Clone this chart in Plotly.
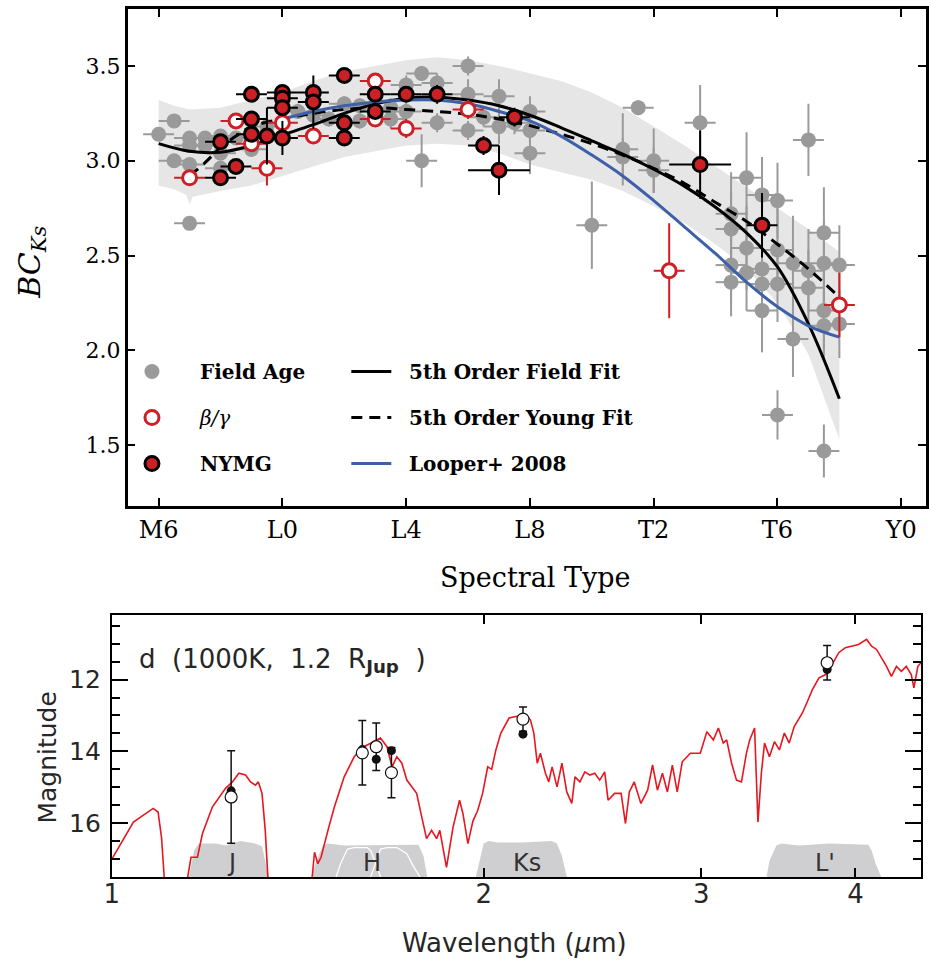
import numpy as np
import plotly.graph_objects as go

# ---------------- Upper panel: bolometric correction vs spectral type ----------------
# Spectral types are numeric: M6=6, L0=10, T0=20, Y0=30
spt_tickvals = [6, 10, 14, 18, 22, 26, 30]
spt_ticktext = ["M6", "L0", "L4", "L8", "T2", "T6", "Y0"]

field_spt = [6.0, 6.5, 6.5, 7.0, 7.0, 7.0, 7.0, 7.5, 7.5, 8.0, 8.0, 8.0, 8.5, 9.0, 9.5,
             10.5, 11.0, 11.5, 12.0, 12.5, 12.5, 13.5, 13.5,
             14.0, 14.0, 14.5, 14.5, 15.0, 15.0, 16.0, 16.0, 16.0, 16.5, 17.0, 17.0, 17.5,
             18.0, 18.0, 18.0,
             20.0, 21.0, 21.0, 21.5, 22.0, 22.0, 23.5,
             24.5, 24.5, 24.5, 24.5, 25.0, 25.0, 25.0, 25.5, 25.5, 25.5, 25.5,
             26.0, 26.0, 26.0, 26.0, 26.5, 26.5, 27.0, 27.0, 27.0,
             27.5, 27.5, 27.5, 27.5, 27.5, 28.0, 28.0]
field_bc = [3.14, 3.21, 3.00, 3.12, 3.08, 2.98, 2.67, 3.12, 3.08, 3.13, 3.04, 2.96, 3.12, 3.06, 3.18,
            3.26, 3.24, 3.22, 3.30, 3.29, 3.21, 3.22, 3.28,
            3.40, 3.26, 3.46, 3.00, 3.41, 3.20, 3.50, 3.35, 3.16, 3.23, 3.34, 3.18, 3.20,
            3.26, 3.16, 3.04,
            2.66, 3.06, 3.02, 3.28, 3.00, 2.95, 3.20,
            2.72, 2.64, 2.45, 2.36, 2.91, 2.54, 2.41, 2.82, 2.43, 2.35, 2.21,
            2.79, 2.53, 2.35, 1.66, 2.46, 2.06, 3.11, 2.42, 2.33,
            2.62, 2.46, 2.21, 2.13, 1.47, 2.45, 2.14]
field_bc_err = [0.03, 0.03, 0.03, 0.03, 0.03, 0.03, 0.03, 0.03, 0.03, 0.03, 0.03, 0.03, 0.03, 0.04, 0.04,
                0.04, 0.04, 0.04, 0.04, 0.04, 0.04, 0.05, 0.05,
                0.05, 0.05, 0.04, 0.14, 0.05, 0.05, 0.05, 0.08, 0.05, 0.05, 0.09, 0.09, 0.06,
                0.08, 0.06, 0.11,
                0.23, 0.19, 0.10, 0.04, 0.17, 0.12, 0.20,
                0.22, 0.20, 0.20, 0.18, 0.24, 0.22, 0.20, 0.20, 0.22, 0.20, 0.22,
                0.20, 0.22, 0.20, 0.13, 0.25, 0.20, 0.19, 0.22, 0.20,
                0.24, 0.22, 0.20, 0.18, 0.14, 0.21, 0.18]

young_spt = [7.0, 8.5, 9.0, 9.5, 10.0, 11.0, 13.0, 13.0, 14.0, 16.0, 22.5, 28.0]
young_bc = [2.91, 3.21, 3.09, 2.96, 3.20, 3.13, 3.42, 3.22, 3.17, 3.27, 2.42, 2.24]
young_spt_err = [0.5, 0.5, 0.5, 0.5, 0.5, 0.5, 0.5, 0.5, 0.5, 0.5, 0.5, 0.5]
young_bc_err = [0.03, 0.03, 0.03, 0.09, 0.04, 0.03, 0.04, 0.04, 0.05, 0.05, 0.25, 0.17]

nymg_spt = [8.0, 8.0, 8.5, 9.0, 9.0, 9.0, 9.5, 10.0, 10.0, 10.0, 10.0, 11.0, 11.0,
            12.0, 12.0, 12.0, 13.0, 13.0, 14.0, 15.0, 16.5, 17.0, 17.5, 23.5, 25.5]
nymg_bc = [2.91, 3.10, 2.97, 3.35, 3.22, 3.14, 3.13, 3.36, 3.33, 3.28, 3.12, 3.36, 3.31,
           3.45, 3.20, 3.12, 3.35, 3.26, 3.35, 3.35, 3.08, 2.95, 3.23, 2.98, 2.66]
nymg_spt_err = [0.5, 0.5, 0.5, 0.5, 0.5, 0.5, 0.5, 0.5, 0.5, 0.5, 0.5, 0.5, 0.5,
                0.5, 0.5, 0.5, 0.5, 0.5, 0.5, 0.5, 0.5, 1.0, 0.5, 1.0, 0.5]
nymg_bc_err = [0.03, 0.03, 0.03, 0.03, 0.03, 0.03, 0.15, 0.03, 0.03, 0.03, 0.09, 0.03, 0.14,
               0.04, 0.04, 0.04, 0.04, 0.04, 0.04, 0.05, 0.05, 0.13, 0.05, 0.18, 0.17]

# Polynomial relations, tabulated along spectral type
field_fit_spt = [6, 7, 8, 9, 10, 11, 12, 13, 14, 15, 16, 17, 18, 19, 20, 21, 22, 23, 24, 25, 26, 27, 28]
field_fit_bc = [3.09, 3.05, 3.045, 3.08, 3.135, 3.19, 3.25, 3.30, 3.33, 3.335, 3.32, 3.29, 3.24,
                3.175, 3.105, 3.035, 2.955, 2.865, 2.755, 2.62, 2.44, 2.14, 1.745]
young_fit_spt = [7, 7.5, 8, 8.5, 9, 10, 11, 12, 13, 14, 15, 16, 17, 18, 19, 20, 21, 22, 23, 24, 25, 26, 27, 28]
young_fit_bc = [2.92, 2.99, 3.07, 3.13, 3.18, 3.22, 3.25, 3.27, 3.28, 3.27, 3.26, 3.245, 3.22, 3.185,
                3.14, 3.09, 3.03, 2.96, 2.88, 2.78, 2.68, 2.56, 2.43, 2.28]
looper_spt = [10, 11, 12, 13, 14, 15, 16, 17, 18, 19, 20, 21, 22, 23, 24, 25, 26, 27, 28]
looper_bc = [3.22, 3.26, 3.29, 3.31, 3.32, 3.32, 3.30, 3.26, 3.21, 3.13, 3.03, 2.92, 2.79, 2.65,
             2.51, 2.36, 2.23, 2.13, 2.07]

band_up_spt = [6, 6.5, 7, 8, 9, 10, 11, 12, 13, 14, 15, 16, 17, 18, 19, 20, 21, 22, 23, 24, 25, 26, 27, 28]
band_up = [3.32, 3.29, 3.27, 3.28, 3.32, 3.36, 3.42, 3.47, 3.50, 3.53, 3.545, 3.53, 3.50, 3.46,
           3.42, 3.36, 3.28, 3.18, 3.08, 2.97, 2.86, 2.75, 2.64, 2.52]
band_lo_spt = [6, 6.5, 6.9, 7.0, 7.1, 8, 9, 10, 11, 12, 13, 14, 15, 16, 17, 18, 19, 20, 21, 22,
               23, 24, 25, 26, 27, 28]
band_lo = [2.87, 2.85, 2.82, 2.77, 2.81, 2.84, 2.87, 2.92, 2.97, 3.02, 3.05, 3.08, 3.09, 3.08,
           3.04, 2.98, 2.94, 2.90, 2.84, 2.76, 2.67, 2.56, 2.43, 2.25, 1.98, 1.53]

# ---------------- Lower panel: model spectrum and photometry ----------------
spec_wl = [1.000, 1.015, 1.041, 1.080, 1.090, 1.097, 1.104, None,
           1.148, 1.159, 1.173, 1.184, 1.206, 1.236, 1.252, 1.267, 1.283, 1.295, 1.307, 1.314,
           1.323, 1.331, 1.339, None,
           1.450, 1.459, 1.468, 1.477, 1.496, 1.514, 1.542, 1.571, 1.600, 1.620, 1.650, 1.670,
           1.686, 1.701, 1.717, 1.733, 1.749, 1.765, 1.782, 1.798, 1.815, 1.832, 1.843, 1.866,
           1.889, 1.912, 1.924, 1.942, 1.960, 1.978, 1.996, 2.015, 2.030, 2.046, 2.065, 2.097,
           2.123, 2.162, 2.182, 2.196, 2.210, 2.223, 2.244, 2.258, 2.272, 2.293, 2.314, 2.335,
           2.357, 2.371, 2.393, 2.415, 2.438, 2.460, 2.483, 2.506, 2.522, 2.553, 2.584, 2.605,
           2.624, 2.648, 2.681, 2.715, 2.740, 2.765, 2.791, 2.817, 2.843, 2.869, 2.896, 2.940,
           2.995, 3.032, 3.069, 3.098, 3.126, 3.146, 3.175, 3.204, 3.234, 3.264, 3.284, 3.314,
           3.335, 3.356, 3.376, 3.407, 3.439, 3.471, 3.503, 3.535, 3.568, 3.601, 3.623, 3.657,
           3.691, 3.737, 3.783, 3.829, 3.877, 3.925, 3.973, 4.022, 4.084, 4.122, 4.160, 4.199,
           4.238, 4.277, 4.317, 4.357, 4.397, 4.438, 4.460, 4.493, 4.520]
spec_mag = [17.00, 16.62, 15.97, 15.59, 15.69, 16.40, 17.80, None,
            17.80, 16.95, 16.95, 16.29, 15.55, 15.03, 14.85, 14.61, 14.66, 14.85, 14.94, 14.85,
            15.17, 16.20, 17.80, None,
            17.80, 16.81, 17.13, 16.95, 16.20, 15.55, 14.71, 14.15, 13.87, 13.77, 13.63, 13.87,
            14.43, 14.15, 14.33, 14.80, 14.99, 15.17, 15.83, 16.43, 16.20, 16.43, 16.20, 17.23,
            16.11, 15.36, 15.73, 16.57, 15.95, 15.64, 15.17, 14.43, 14.50, 13.96, 13.49, 13.07,
            13.03, 12.98, 13.12, 13.49, 14.33, 14.05, 14.61, 14.85, 14.43, 14.99, 14.33, 15.13,
            15.45, 14.71, 14.85, 14.57, 14.66, 14.61, 14.80, 14.57, 15.36, 15.17, 15.17, 16.01,
            15.13, 14.85, 15.45, 15.08, 14.38, 15.08, 14.61, 15.13, 14.38, 15.13, 14.29, 14.05,
            14.05, 13.45, 13.68, 13.35, 13.77, 13.68, 14.33, 14.80, 14.85, 14.05, 13.68, 13.35,
            15.97, 14.61, 13.77, 14.15, 13.73, 13.96, 13.49, 13.77, 13.31, 13.07, 12.93, 12.61,
            12.28, 11.95, 11.86, 11.58, 11.25, 11.11, 11.07, 11.02, 10.88, 11.07, 11.16, 11.39,
            11.63, 11.91, 11.63, 11.77, 11.63, 11.86, 12.23, 11.63, 11.53]

phot_wl = [1.249, 1.595, 1.637, 1.684, 2.152, 3.794]
phot_mag = [15.27, 14.04, 13.87, 14.59, 13.10, 11.53]
phot_err = [1.29, 0.90, 0.66, 0.70, 0.34, 0.48]
synth_mag = [15.10, 13.95, 14.22, 13.98, 13.52, 11.72]

# Filter transmission outlines (wavelength, magnitude of profile top)
filt_J_wl = [1.1546, 1.1655, 1.1761, 1.2136, 1.2362, 1.2708, 1.3065, 1.3234, 1.3307, 1.3389]
filt_J_mag = [17.5, 16.76, 16.57, 16.57, 16.62, 16.50, 16.57, 16.65, 17.05, 17.5]
filt_H_wl = [1.4504, 1.4647, 1.4809, 1.4947, 1.5423, 1.6150, 1.7068, 1.7709, 1.7873, 1.8006]
filt_H_mag = [17.5, 17.05, 16.65, 16.57, 16.62, 16.62, 16.62, 16.60, 16.90, 17.5]
filt_H1_wl = [1.5188, 1.5329, 1.5516, 1.5709, 1.6099, 1.6200, 1.6350, 1.6501]
filt_H1_mag = [17.5, 17.10, 16.72, 16.68, 16.68, 16.76, 17.10, 17.5]
filt_H2_wl = [1.6200, 1.6350, 1.6501, 1.6703, 1.7014, 1.7331, 1.7547, 1.7764]
filt_H2_mag = [17.5, 17.10, 16.72, 16.68, 16.68, 16.85, 17.21, 17.5]
filt_K_wl = [1.9708, 1.9854, 2.0001, 2.0186, 2.0524, 2.1493, 2.2715, 2.2925, 2.3137, 2.3351]
filt_K_mag = [17.5, 17.05, 16.57, 16.50, 16.54, 16.54, 16.50, 16.57, 16.90, 17.5]
filt_L_wl = [3.3886, 3.4074, 3.4517, 3.4837, 3.6012, 3.8060, 4.0973, 4.1223, 4.1504, 4.1966]
filt_L_mag = [17.5, 17.05, 16.62, 16.57, 16.62, 16.57, 16.60, 16.76, 17.10, 17.5]
filt_names = ["J", "H", "Ks", "L'"]
filt_label_wl = [1.25, 1.625, 2.17, 3.78]

# ---------------- styling ----------------
W, H = 929, 965
RED = "#cc2027"
GREY = "#9a9a9a"
BLUE = "#3d60a8"
SERIF = "DejaVu Serif"
SANS = "DejaVu Sans"
INK = "#262626"
NB = "\u00a0"


def px_x(p):
    return p / W


def px_y(p):
    return 1 - p / H


fig = go.Figure()

# uncertainty band of the field relation
fig.add_trace(go.Scatter(
    x=band_up_spt + band_lo_spt[::-1], y=band_up + band_lo[::-1],
    fill="toself", fillcolor="#e6e6e6", line=dict(width=0), mode="lines",
    hoverinfo="skip", showlegend=False, xaxis="x", yaxis="y"))

fig.add_trace(go.Scatter(
    x=field_spt, y=field_bc, mode="markers", name="<b>Field Age</b>",
    marker=dict(color=GREY, size=15, line=dict(width=0)),
    error_x=dict(type="constant", value=0.5, color=GREY, thickness=2, width=0),
    error_y=dict(type="data", array=field_bc_err, color=GREY, thickness=2, width=0),
    legend="legend", legendgroup="g1", xaxis="x", yaxis="y"))

fig.add_trace(go.Scatter(
    x=field_fit_spt, y=field_fit_bc, mode="lines", line=dict(color="black", width=3, shape="spline"),
    name=NB * 2 + "<b>5th Order Field Fit</b>", legend="legend2", legendgroup="l1", xaxis="x", yaxis="y"))
fig.add_trace(go.Scatter(
    x=young_fit_spt, y=young_fit_bc, mode="lines",
    line=dict(color="black", width=3, dash="11px,7px", shape="spline"),
    name=NB * 2 + "<b>5th Order Young Fit</b>", legend="legend2", legendgroup="l2", xaxis="x", yaxis="y"))
fig.add_trace(go.Scatter(
    x=looper_spt, y=looper_bc, mode="lines", line=dict(color=BLUE, width=3, shape="spline"),
    name=NB * 2 + "<b>Looper+ 2008</b>", legend="legend2", legendgroup="l3", xaxis="x", yaxis="y"))

fig.add_trace(go.Scatter(
    x=young_spt, y=young_bc, mode="markers", name="<i>β/γ</i>",
    marker=dict(color="white", size=14, line=dict(color=RED, width=3)),
    error_x=dict(type="data", array=young_spt_err, color=RED, thickness=2, width=0),
    error_y=dict(type="data", array=young_bc_err, color=RED, thickness=2, width=0),
    legend="legend", legendgroup="g2", xaxis="x", yaxis="y"))

fig.add_trace(go.Scatter(
    x=nymg_spt, y=nymg_bc, mode="markers", name="<b>NYMG</b>",
    marker=dict(color=RED, size=14, line=dict(color="black", width=3)),
    error_x=dict(type="data", array=nymg_spt_err, color="black", thickness=2, width=0),
    error_y=dict(type="data", array=nymg_bc_err, color="black", thickness=2, width=0),
    legend="legend", legendgroup="g3", xaxis="x", yaxis="y"))

# lower panel: filters
filt_sets = [(filt_J_wl, filt_J_mag), (filt_H_wl, filt_H_mag), (filt_K_wl, filt_K_mag), (filt_L_wl, filt_L_mag)]
for wl, mg in filt_sets:
    fig.add_trace(go.Scatter(x=wl, y=mg, fill="toself", fillcolor="#cfcfd1", mode="lines",
                             line=dict(width=0, color="#cfcfd1"), showlegend=False,
                             hoverinfo="skip", xaxis="x2", yaxis="y2"))
for wl, mg in [(filt_H1_wl, filt_H1_mag), (filt_H2_wl, filt_H2_mag)]:
    fig.add_trace(go.Scatter(x=wl, y=mg, mode="lines", line=dict(width=1.3, color="white"),
                             showlegend=False, hoverinfo="skip", xaxis="x2", yaxis="y2"))

fig.add_trace(go.Scatter(x=spec_wl, y=spec_mag, mode="lines", connectgaps=False,
                         line=dict(color="#e8161e", width=1.6), showlegend=False,
                         xaxis="x2", yaxis="y2"))

fig.add_trace(go.Scatter(x=phot_wl, y=synth_mag, mode="markers",
                         marker=dict(color="#111111", size=9), showlegend=False,
                         xaxis="x2", yaxis="y2"))
fig.add_trace(go.Scatter(x=phot_wl, y=phot_mag, mode="markers",
                         marker=dict(color="white", size=12, line=dict(color="#111111", width=1.2)),
                         error_y=dict(type="data", array=phot_err, color="#111111", thickness=1.5, width=4),
                         showlegend=False, xaxis="x2", yaxis="y2"))

annotations = []
for name, wl in zip(filt_names, filt_label_wl):
    annotations.append(dict(x=np.log10(wl), y=17.12, xref="x2", yref="y2", text=name,
                            xanchor="center", yanchor="middle",
                            showarrow=False, font=dict(family=SANS, size=24, color="#333333")))


def label(x, y, text, size, family, angle=0, anchor="center", color="black"):
    return dict(x=px_x(x), y=px_y(y), xref="paper", yref="paper", text=text, textangle=angle,
                xanchor=anchor, yanchor="middle", showarrow=False,
                font=dict(family=family, size=size, color=color))


annotations += [
    label(24, 262, "<i>BC</i><sub><i>Ks</i></sub>", 30, SERIF, angle=-90),
    label(533, 577, "Spectral Type", 27, SERIF),
    label(39, 758, "Magnitude", 25, SANS, angle=-90, color=INK),
    label(512, 943, "Wavelength (<i>μ</i>m)", 26, SANS, color=INK),
    label(130, 660, "d  (1000K,  1.2  R<sub><b>Jup</b></sub>  )", 26, SANS, anchor="left", color=INK),
]

axis_common = dict(showgrid=False, zeroline=False, showline=True, linecolor="black",
                   ticks="inside", mirror="allticks", tickcolor="black")

fig.update_layout(
    width=W, height=H, margin=dict(l=0, r=0, t=0, b=0),
    paper_bgcolor="white", plot_bgcolor="white",
    xaxis=dict(domain=[px_x(121), px_x(928)], range=[5.0, 30.8], tickvals=spt_tickvals,
               ticktext=spt_ticktext, ticklen=8, tickwidth=1.5, linewidth=2.5,
               tickfont=dict(family=SERIF, size=24, color="black"), anchor="y", **axis_common),
    yaxis=dict(domain=[px_y(506), px_y(9)], range=[1.18, 3.80], tickvals=[1.5, 2.0, 2.5, 3.0, 3.5],
               ticktext=["1.5", "2.0", "2.5", "3.0", "3.5"], ticklen=8, tickwidth=1.5, linewidth=2.5,
               tickfont=dict(family=SERIF, size=22, color="black"), anchor="x", **axis_common),
    xaxis2=dict(domain=[px_x(105), px_x(923)], type="log", range=[0, np.log10(4.52)],
                tickvals=[1, 2, 3, 4], ticktext=["1", "2", "3", "4"], ticklen=9, tickwidth=1.5,
                linewidth=2, tickfont=dict(family=SANS, size=26, color=INK), anchor="y2",
                ticklabelstandoff=-7, **axis_common),
    yaxis2=dict(domain=[px_y(877), px_y(615)], range=[17.5, 10.2], tickvals=[12, 14, 16],
                ticklen=16, tickwidth=1.5, linewidth=2,
                minor=dict(dtick=0.5, ticklen=8, tickcolor="black", ticks="inside"),
                tickfont=dict(family=SANS, size=25, color=INK), anchor="x2",
                ticklabelstandoff=4, **axis_common),
    legend=dict(x=px_x(97), y=px_y(352), xanchor="left", yanchor="top", bgcolor="rgba(0,0,0,0)",
                font=dict(family=SERIF, size=20, color="black"), tracegroupgap=17, itemwidth=86,
                traceorder="grouped"),
    legend2=dict(x=px_x(342), y=px_y(352), xanchor="left", yanchor="top", bgcolor="rgba(0,0,0,0)",
                 font=dict(family=SERIF, size=20, color="black"), tracegroupgap=17, itemwidth=40,
                 traceorder="grouped"),
    annotations=annotations,
)

fig.write_html("out.html")
